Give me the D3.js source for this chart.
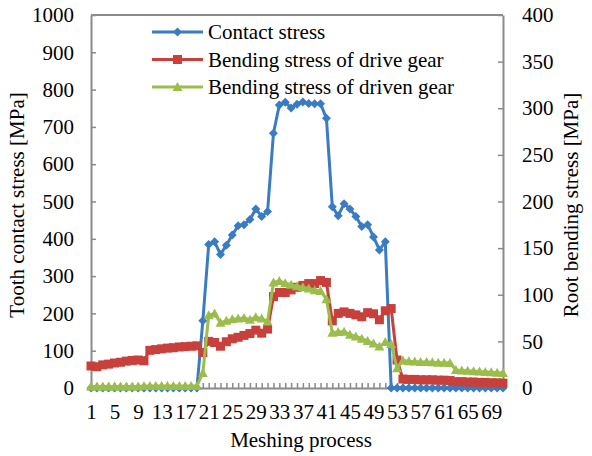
<!DOCTYPE html>
<html>
<head>
<meta charset="utf-8">
<script src="https://cdn.jsdelivr.net/npm/d3@7"></script>
<style>
  body { margin: 0; background: #fff; }
  text { font-family: "Liberation Serif", "Times New Roman", serif; fill: #000; }
</style>
</head>
<body>
<div id="chart"></div>
<script>
let categories = d3.range(1, 72);
let xTickLabels = [1, 5, 9, 13, 17, 21, 25, 29, 33, 37, 41, 45, 49, 53, 57, 61, 65, 69];
let leftTicks = [0, 100, 200, 300, 400, 500, 600, 700, 800, 900, 1000];
let rightTicks = [0, 50, 100, 150, 200, 250, 300, 350, 400];

// tooth contact stress, left axis
let contactStress = [
  0, 0, 0, 0, 0, 0, 0, 0, 0, 0, 0, 0, 0, 0, 0, 0, 0, 0, 0,
  180, 385, 392, 358, 383, 410, 435, 438, 452, 480, 460, 473,
  683, 759, 766, 751, 761, 767, 763, 762, 762, 723,
  486, 462, 494, 480, 460, 433, 438, 405, 370, 392,
  0, 0, 0, 0, 0, 0, 0, 0, 0, 0, 0, 0, 0, 0, 0, 0, 0, 0, 0, 0
];
// root bending stress, right axis
let driveGear = [
  23.6, 22.8, 24.8, 25.6, 26.8, 27.6, 28.8, 29.6, 30.0, 29.2,
  40.4, 41.2, 42.0, 42.8, 43.2, 44.0, 44.4, 44.8, 45.2,
  38.0, 50.0, 48.8, 44.8, 49.6, 52.8, 54.4, 56.4, 58.4, 62.0, 58.8, 63.2,
  98.0, 102.4, 102.4, 105.2, 108.0, 110.0, 112.0, 112.0, 115.2, 113.2,
  72.0, 80.0, 81.6, 80.0, 78.4, 76.4, 80.8, 79.6, 73.2, 82.8, 85.2,
  30.0, 9.6, 9.2, 9.2, 8.8, 8.8, 8.8, 8.4, 8.4, 8.0,
  6.8, 6.8, 6.4, 6.4, 6.0, 6.0, 5.6, 5.6, 5.2
];
let drivenGear = [
  1.6, 1.6, 1.6, 1.6, 1.6, 1.6, 1.6, 1.6, 1.6,
  2.2, 2.2, 2.2, 2.2, 2.2, 2.2, 2.2, 2.2, 2.2, 2.2,
  16.0, 78.0, 80.0, 70.0, 72.0, 73.6, 74.4, 75.2, 73.2, 76.0, 74.4, 71.2,
  113.2, 114.8, 112.4, 110.8, 109.2, 108.0, 106.8, 104.8, 104.0, 95.2,
  59.2, 60.0, 60.4, 57.2, 55.2, 52.8, 50.4, 47.6, 44.4, 49.2, 47.2,
  21.2, 29.6, 28.8, 28.4, 28.0, 28.0, 27.6, 27.2, 27.2, 26.8,
  19.2, 18.8, 18.4, 18.0, 17.6, 17.2, 16.8, 16.4, 16.0
];

let seriesNames = ["Contact stress", "Bending stress of drive gear", "Bending stress of driven gear"];
let colors = ["#3a7cc3", "#c8403b", "#9bbd4c"];

let containerWidth = 592, containerHeight = 456;
let margin = {left: 91, right: 89, top: 15, bottom: 68},
    width = containerWidth - margin.left - margin.right,
    height = containerHeight - margin.top - margin.bottom;
let serif = "'Liberation Serif', 'Times New Roman', serif";

//define svg
let svg = d3.select("#chart")
            .append("svg")
            .attr("width", containerWidth)
            .attr("height", containerHeight)
            .append("g")
            .attr("transform", "translate(" + margin.left + "," + margin.top + ")");

//define scale
let xScale = d3.scalePoint()
               .domain(categories)
               .range([0, width]);
let yLeft = d3.scaleLinear().domain([0, 1000]).range([height, 0]);
let yRight = d3.scaleLinear().domain([0, 400]).range([height, 0]);

let axisColor = "#8a8a8a";

//axes
let xAxis = d3.axisBottom(xScale)
              .tickSizeInner(-5)
              .tickSizeOuter(0)
              .tickPadding(16)
              .tickFormat(d => xTickLabels.includes(d) ? d : "");
let yAxisLeft = d3.axisLeft(yLeft).tickValues(leftTicks).tickFormat(d3.format("d"))
                  .tickSizeInner(-5).tickSizeOuter(0).tickPadding(17);
let yAxisRight = d3.axisRight(yRight).tickValues(rightTicks).tickFormat(d3.format("d"))
                   .tickSizeInner(-5).tickSizeOuter(0).tickPadding(19);

// top border
svg.append("line")
   .attr("x1", 0).attr("x2", width)
   .attr("y1", 0).attr("y2", 0)
   .attr("stroke", axisColor)
   .attr("stroke-width", 2);

let gx = svg.append("g")
   .attr("class", "x axis")
   .attr("transform", "translate(0," + height + ")")
   .call(xAxis);
let gl = svg.append("g").attr("class", "y axis").call(yAxisLeft);
let gr = svg.append("g").attr("class", "y axis")
   .attr("transform", "translate(" + width + ",0)")
   .call(yAxisRight);

[gx, gl, gr].forEach(g => {
  g.attr("font-family", serif).attr("font-size", 21);
  g.select(".domain").attr("stroke", axisColor).attr("stroke-width", 2);
  g.selectAll(".tick line").attr("stroke", axisColor).attr("stroke-width", 1.5);
  g.selectAll("text").attr("font-family", serif).style("font-family", serif)
   .style("font-size", "21px").attr("fill", "#000");
});

// axis titles
svg.append("text")
   .attr("transform", "translate(" + (17 - margin.left) + "," + (205 - margin.top) + ") rotate(-90)")
   .attr("text-anchor", "middle")
   .attr("dominant-baseline", "central")
   .style("font-size", "21px")
   .text("Tooth contact stress [MPa]");

svg.append("text")
   .attr("transform", "translate(" + (571 - margin.left) + "," + (205 - margin.top) + ") rotate(-90)")
   .attr("text-anchor", "middle")
   .attr("dominant-baseline", "central")
   .style("font-size", "21px")
   .text("Root bending stress [MPa]");

svg.append("text")
   .attr("x", (301 - margin.left))
   .attr("y", height + 59)
   .attr("text-anchor", "middle")
   .style("font-size", "21px")
   .text("Meshing process");

// markers
function drawMarker(g, kind, color) {
  if (kind === 0) {
    g.append("path").attr("d", "M0,-4.5L4.5,0L0,4.5L-4.5,0Z").attr("fill", color);
  } else if (kind === 1) {
    g.append("rect").attr("x", -4.5).attr("y", -4.5).attr("width", 9).attr("height", 9).attr("fill", color);
  } else {
    g.append("path").attr("d", "M0,-5L5,4L-5,4Z").attr("fill", color);
  }
}

let allSeries = [
  {values: contactStress, scale: yLeft},
  {values: driveGear, scale: yRight},
  {values: drivenGear, scale: yRight}
];

allSeries.forEach((s, i) => {
  let pts = categories.map((c, k) => [xScale(c), s.scale(s.values[k])]);
  svg.append("path")
     .datum(pts)
     .attr("fill", "none")
     .attr("stroke", colors[i])
     .attr("stroke-width", 3)
     .attr("stroke-linejoin", "round")
     .attr("d", d3.line());
  let mg = svg.append("g");
  pts.forEach(p => {
    let g = mg.append("g").attr("transform", "translate(" + p[0] + "," + p[1] + ")");
    drawMarker(g, i, colors[i]);
  });
});

// legend
let legend = svg.append("g").attr("transform", "translate(" + (152 - margin.left) + "," + (32 - margin.top) + ")");
seriesNames.forEach((name, i) => {
  let row = legend.append("g").attr("transform", "translate(0," + (i * 27.5) + ")");
  row.append("line")
     .attr("x1", 0).attr("x2", 51)
     .attr("y1", 0).attr("y2", 0)
     .attr("stroke", colors[i])
     .attr("stroke-width", 3);
  let m = row.append("g").attr("transform", "translate(25.5,0)");
  drawMarker(m, i, colors[i]);
  row.append("text")
     .attr("x", 56)
     .attr("y", 0)
     .attr("dy", "0.35em")
     .style("font-size", "21px")
     .text(name);
});
</script>
</body>
</html>
